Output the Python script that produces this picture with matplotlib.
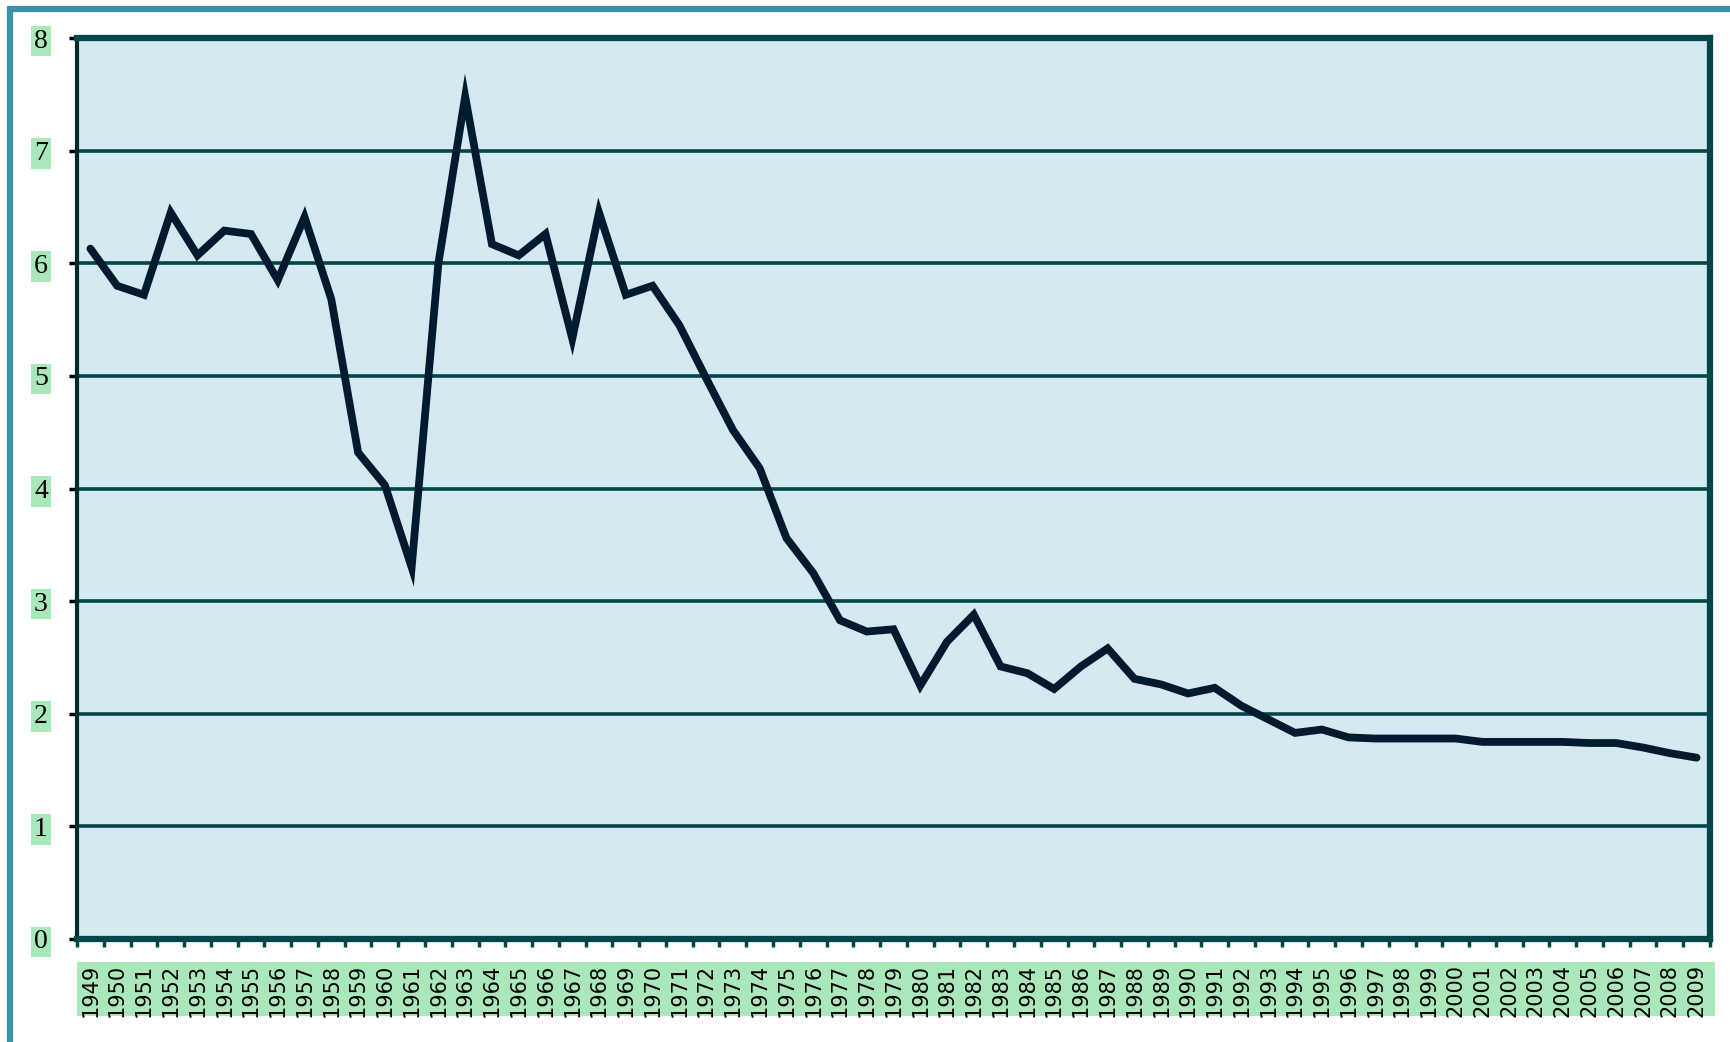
import matplotlib
matplotlib.use("Agg")
import matplotlib.pyplot as plt
from matplotlib.patches import Rectangle

years = list(range(1949, 2010))
values = [6.13, 5.80, 5.72, 6.45, 6.07, 6.29, 6.26, 5.85, 6.41, 5.68,
          4.32, 4.03, 3.30, 6.00, 7.48, 6.17, 6.07, 6.26, 5.33, 6.45,
          5.72, 5.80, 5.45, 4.98, 4.52, 4.18, 3.56, 3.25, 2.83, 2.73,
          2.75, 2.25, 2.64, 2.88, 2.42, 2.36, 2.22, 2.42, 2.58, 2.31,
          2.26, 2.18, 2.23, 2.07, 1.95, 1.83, 1.86, 1.79, 1.78, 1.78,
          1.78, 1.78, 1.75, 1.75, 1.75, 1.75, 1.74, 1.74, 1.70, 1.65,
          1.61]
y_ticks = [0, 1, 2, 3, 4, 5, 6, 7, 8]

W, H = 1731, 1042
fig = plt.figure(figsize=(W / 100, H / 100), dpi=100)
fig.patch.set_facecolor("white")

GREEN = "#aae8bb"
TEAL = "#00464a"
LINE = "#001a30"

# outer frame (extends beyond right/bottom edges)
fig.patches.append(Rectangle((10 / W, -0.05), 1.2, 1 - 9 / H + 0.05,
                             transform=fig.transFigure, fill=False,
                             edgecolor="#3a91a8", linewidth=4.5, zorder=-2))
# green band behind the year labels
fig.patches.append(Rectangle((77 / W, 1 - 1016 / H), (1715 - 77) / W, 54 / H,
                             transform=fig.transFigure, facecolor=GREEN,
                             edgecolor="none", zorder=-1))

left, right, top, bottom = 77, 1710, 38, 939
ax = fig.add_axes([left / W, 1 - bottom / H, (right - left) / W, (bottom - top) / H])
ax.set_facecolor("#d4eaf0")

x = list(range(len(years)))
ax.plot(x, values, color=LINE, linewidth=5.6, solid_joinstyle="miter",
        solid_capstyle="round", zorder=3)

ax.set_xlim(-0.5, len(years) - 0.5)
ax.set_ylim(0, 8)
ax.set_yticks(y_ticks)
ax.yaxis.grid(True, color=TEAL, linewidth=2.6)
ax.set_axisbelow(True)

for s in ["top", "right", "bottom"]:
    ax.spines[s].set_color(TEAL)
    ax.spines[s].set_linewidth(4.5)
ax.spines["left"].set_color("#002a28")
ax.spines["left"].set_linewidth(3)

ax.tick_params(axis="y", direction="out", length=6, width=2.5, color="black",
               pad=15)
for lab in ax.get_yticklabels():
    lab.set_fontfamily("Liberation Serif")
    lab.set_fontsize(20)
    lab.set_bbox(dict(boxstyle="square,pad=0.1", facecolor=GREEN, edgecolor="none"))

ax.set_xticks(x)
ax.set_xticklabels([str(y) for y in years], rotation=90, fontsize=15,
                   fontfamily="DejaVu Sans", va="top")
ax.tick_params(axis="x", which="major", length=0, pad=18)
ax.set_xticks([i - 0.5 for i in range(len(years) + 1)], minor=True)
ax.tick_params(axis="x", which="minor", direction="out", length=6, width=2.5,
               color=TEAL)

fig.savefig("out.png", dpi=100, facecolor="white")
